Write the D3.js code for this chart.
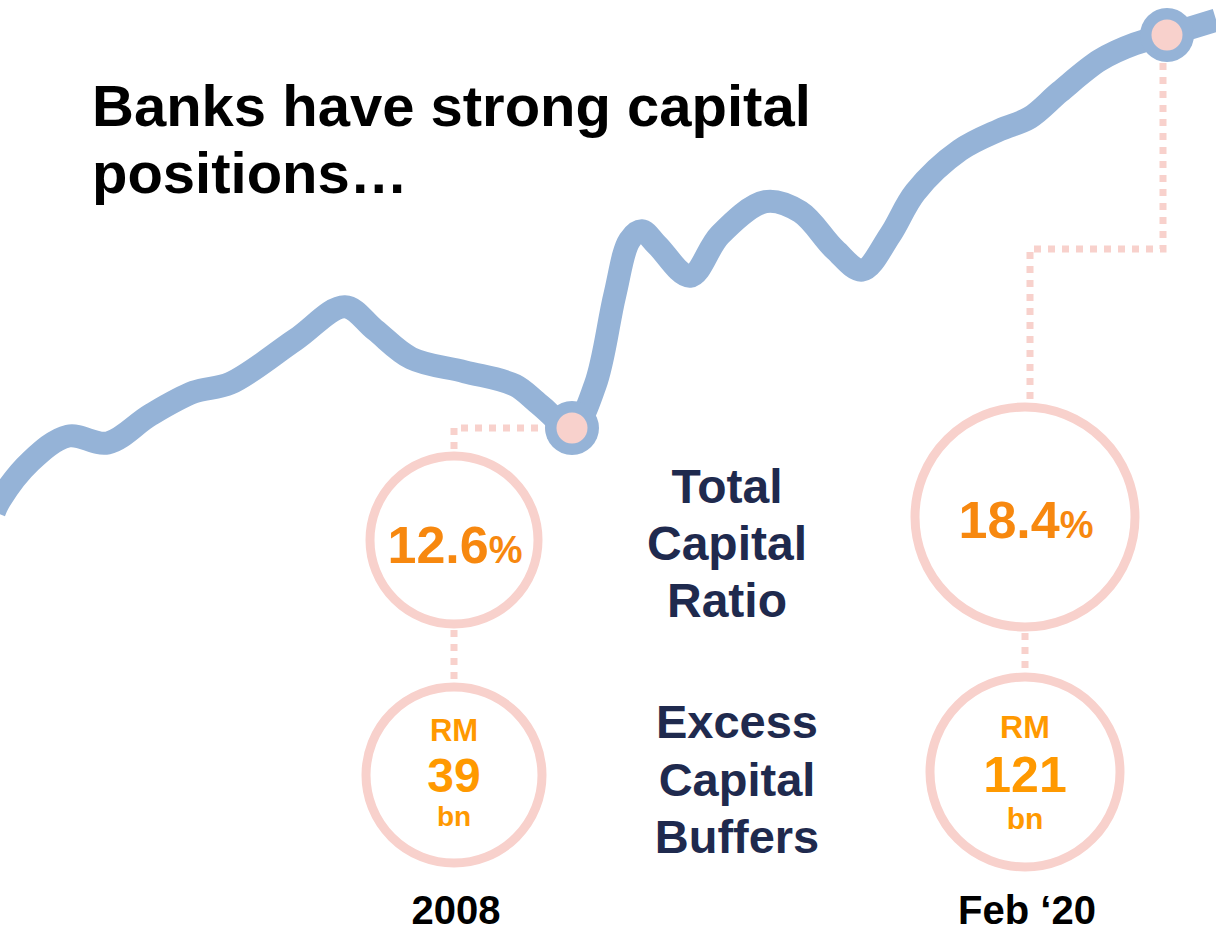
<!DOCTYPE html>
<html lang="en">
<head>
  <meta charset="UTF-8">
  <title>Banks have strong capital positions</title>
  <script src="https://d3js.org/d3.v7.min.js"></script>
  <style>
    body { margin: 0; background: #fff; }
    text { font-family: "Liberation Sans", Arial, sans-serif; font-weight: bold; }
  </style>
</head>
<body>
  <script>
    var width = 1216;
    var height = 933;

    // capital ratio path (decimal year, total capital ratio %)
    var years = [1996.25, 1996.37, 1996.98, 1997.75, 1998.56, 1999.42, 2000.31, 2001.05, 2002.37, 2003.38,
                 2003.99, 2004.73, 2005.82, 2006.84, 2007.35, 2008.00, 2008.47, 2008.87, 2009.17, 2009.42,
                 2009.73, 2010.40, 2011.01, 2011.93, 2012.64, 2013.35, 2013.90, 2014.47, 2014.98, 2015.89,
                 2016.70, 2017.31, 2017.92, 2018.74, 2019.45, 2020.10, 2021.10];
    var ratios = [11.36, 11.54, 12.10, 12.48, 12.38, 12.79, 13.13, 13.26, 13.90, 14.39,
                  14.05, 13.63, 13.43, 13.23, 12.94, 12.60, 13.23, 14.56, 15.37, 15.51,
                  15.30, 14.84, 15.45, 15.94, 15.79, 15.23, 14.93, 15.45, 16.08, 16.70,
                  17.00, 17.18, 17.56, 18.03, 18.27, 18.40, 18.62];

    // highlighted points
    var markLabels = ["2008", "Feb \u201820"];
    var markYears = [2008, 2020.1];
    var markRatios = [12.6, 18.4];
    var markBuffers = [39, 121];

    var titleLines = ["Banks have strong capital", "positions\u2026"];
    var ratioLabel = ["Total", "Capital", "Ratio"];
    var bufferLabel = ["Excess", "Capital", "Buffers"];

    var blue = "#95b3d7", pink = "#f8d1cc", orange = "#f7880f", amber = "#ff9900", navy = "#1f2a4e";

    var svg = d3.select("body")
                .append("svg")
                .attr("width", width)
                .attr("height", height);

    var x = d3.scaleLinear().domain([2008, 2020.1]).range([572, 1167]);
    var y = d3.scaleLinear().domain([12.6, 18.4]).range([428, 35]);

    var points = years.map((d, i) => ({ year: d, ratio: ratios[i] }));
    var marks = markYears.map((d, i) => ({ year: d, ratio: markRatios[i], buffer: markBuffers[i], label: markLabels[i] }));

    // layout of the two columns of rings
    var layout = [
      { cx: 454, ratioCy: 540, ratioR: 84, ratioBase: 563, bufCy: 775, bufR: 88,
        rm: [741, 31], num: [792, 48], bn: [826, 28], labelBase: 924, route: "left" },
      { cx: 1025, ratioCy: 517, ratioR: 110, ratioBase: 538, bufCy: 772, bufR: 95,
        rm: [738, 32], num: [792, 50], bn: [829, 30], labelBase: 924, route: "right" }
    ];

    var dotted = svg.append("g")
      .attr("fill", "none")
      .attr("stroke", pink)
      .attr("stroke-width", 7)
      .attr("stroke-dasharray", "7,7");

    marks.forEach(function(m, i) {
      var L = layout[i];
      var mx = x(m.year), my = y(m.ratio);
      var top = L.ratioCy - L.ratioR - 5;
      var p = d3.path();
      if (L.route === "left") {
        p.moveTo(mx - 20, my);
        p.lineTo(L.cx, my);
        p.lineTo(L.cx, top);
      } else {
        var midY = 249, jx = L.cx + 5;
        p.moveTo(mx - 4, my + 28);
        p.lineTo(mx - 4, midY);
        p.lineTo(jx, midY);
        p.lineTo(jx, top);
      }
      dotted.append("path").attr("d", p.toString());
      // link between the two rings
      dotted.append("line")
        .attr("x1", L.cx).attr("x2", L.cx)
        .attr("y1", L.ratioCy + L.ratioR + 6)
        .attr("y2", L.bufCy - L.bufR - 4);
    });

    var line = d3.line()
      .x(d => x(d.year))
      .y(d => y(d.ratio))
      .curve(d3.curveCatmullRom.alpha(0.5));

    svg.append("path")
      .datum(points)
      .attr("d", line)
      .attr("fill", "none")
      .attr("stroke", blue)
      .attr("stroke-width", 23)
      .attr("stroke-linejoin", "round");

    svg.selectAll("circle.outer")
      .data(marks)
      .enter()
      .append("circle")
      .attr("class", "outer")
      .attr("cx", d => x(d.year))
      .attr("cy", d => y(d.ratio))
      .attr("r", 27)
      .attr("fill", blue);

    svg.selectAll("circle.inner")
      .data(marks)
      .enter()
      .append("circle")
      .attr("class", "inner")
      .attr("cx", d => x(d.year))
      .attr("cy", d => y(d.ratio))
      .attr("r", 15.5)
      .attr("fill", pink);

    // rings and their values
    marks.forEach(function(m, i) {
      var L = layout[i];
      svg.append("circle")
        .attr("cx", L.cx).attr("cy", L.ratioCy).attr("r", L.ratioR)
        .attr("fill", "none").attr("stroke", pink).attr("stroke-width", 9);
      svg.append("circle")
        .attr("cx", L.cx).attr("cy", L.bufCy).attr("r", L.bufR)
        .attr("fill", "none").attr("stroke", pink).attr("stroke-width", 9);

      var pct = svg.append("text")
        .attr("x", L.cx + 1).attr("y", L.ratioBase)
        .attr("text-anchor", "middle")
        .attr("fill", orange);
      pct.append("tspan").attr("font-size", 52).text(m.ratio.toFixed(1));
      pct.append("tspan").attr("font-size", 38).text("%");

      svg.append("text").attr("x", L.cx).attr("y", L.rm[0])
        .attr("text-anchor", "middle").attr("font-size", L.rm[1]).attr("fill", amber).text("RM");
      svg.append("text").attr("x", L.cx).attr("y", L.num[0])
        .attr("text-anchor", "middle").attr("font-size", L.num[1]).attr("fill", amber).text(m.buffer);
      svg.append("text").attr("x", L.cx).attr("y", L.bn[0])
        .attr("text-anchor", "middle").attr("font-size", L.bn[1]).attr("fill", amber).text("bn");

      svg.append("text").attr("x", L.cx + 2).attr("y", L.labelBase)
        .attr("text-anchor", "middle").attr("font-size", 40).attr("fill", "#000").text(m.label);
    });

    svg.selectAll("text.title")
      .data(titleLines)
      .enter()
      .append("text")
      .attr("class", "title")
      .attr("x", 92)
      .attr("y", (d, i) => 126 + i * 67)
      .attr("font-size", 58)
      .attr("fill", "#000")
      .text(d => d);

    svg.selectAll("text.ratio-label")
      .data(ratioLabel)
      .enter()
      .append("text")
      .attr("class", "ratio-label")
      .attr("x", 727)
      .attr("y", (d, i) => 503 + i * 57)
      .attr("text-anchor", "middle")
      .attr("font-size", 48)
      .attr("fill", navy)
      .text(d => d);

    svg.selectAll("text.buffer-label")
      .data(bufferLabel)
      .enter()
      .append("text")
      .attr("class", "buffer-label")
      .attr("x", 737)
      .attr("y", (d, i) => 738 + i * 57.5)
      .attr("text-anchor", "middle")
      .attr("font-size", 47)
      .attr("fill", navy)
      .text(d => d);
  </script>
</body>
</html>
